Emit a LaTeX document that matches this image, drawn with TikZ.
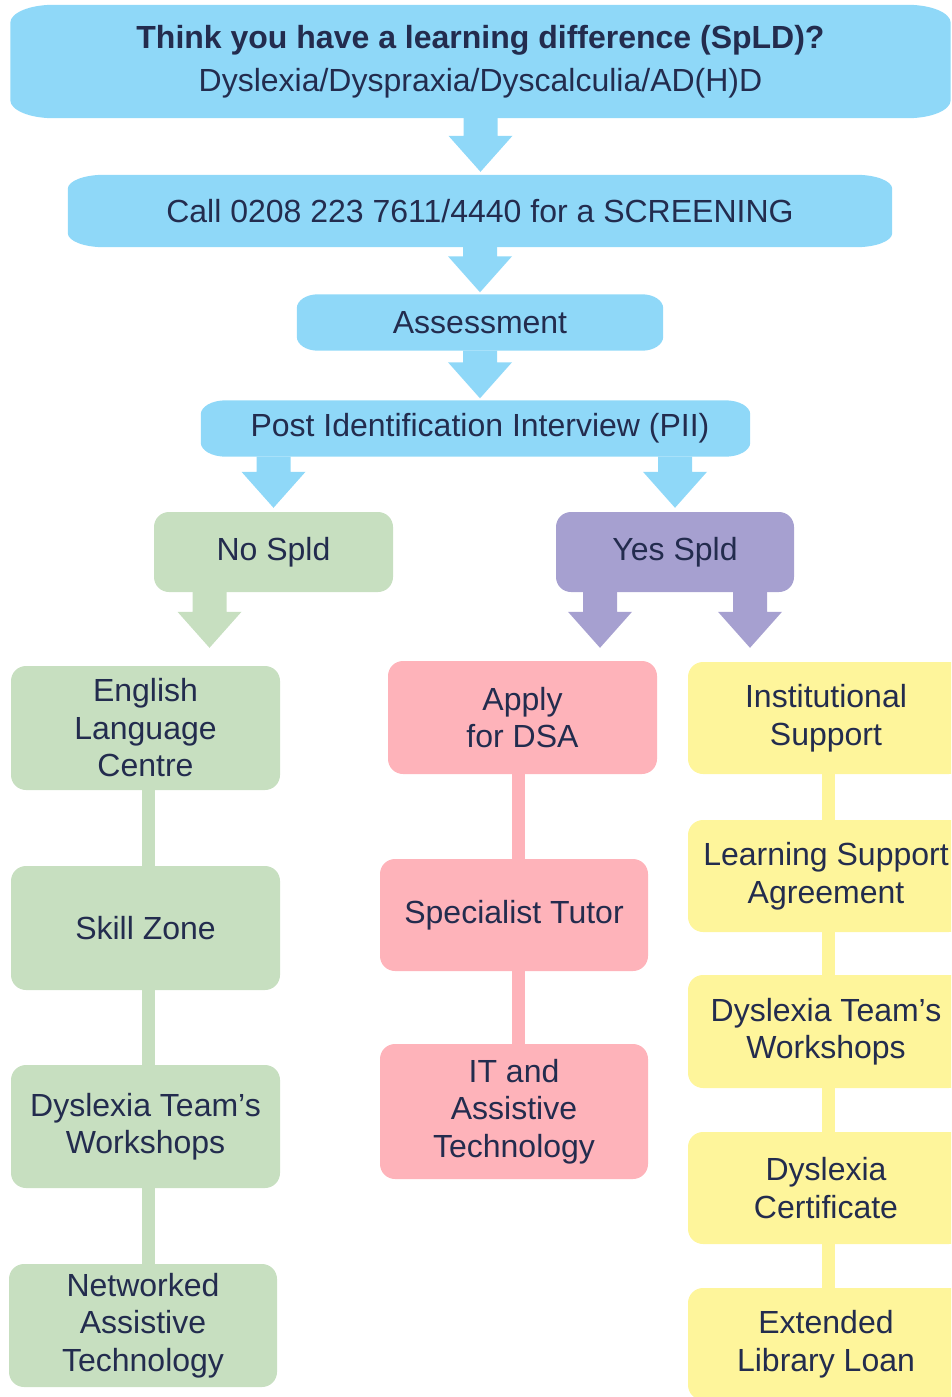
\documentclass[tikz,border=0pt]{standalone}
\usepackage{fontspec}
\setmainfont{Liberation Sans}
\usepackage{xcolor}
\usetikzlibrary{calc}
\pgfdeclarelayer{bg}
\pgfsetlayers{bg,main}
\definecolor{sky}{HTML}{8FD8F8}
\definecolor{sage}{HTML}{C7DFC0}
\definecolor{lilac}{HTML}{A6A0D0}
\definecolor{rose}{HTML}{FEB3BA}
\definecolor{lemon}{HTML}{FEF59B}
\definecolor{ink}{HTML}{232C4E}
\newcommand{\fatarrow}[3]{\fill[#1] let \p1 = (#2), \p2 = (#3) in
  (\x1-17pt,\y1) -- (\x1+17pt,\y1) -- (\x1+17pt,\y2+36pt) -- (\x1+32pt,\y2+36pt)
  -- (\x1,\y2) -- (\x1-32pt,\y2+36pt) -- (\x1-17pt,\y2+36pt) -- cycle;}
\newcommand{\ovalfill}[4]{\fill[#2] ($(#1.north west)+(#3pt,0pt)$) -- ($(#1.north east)+(-#3pt,0pt)$)
  arc[start angle = 90, end angle = 0, x radius = #3pt, y radius = #4pt] -- ($(#1.south east)+(0pt,#4pt)$)
  arc[start angle = 0, end angle = -90, x radius = #3pt, y radius = #4pt] -- ($(#1.south west)+(#3pt,0pt)$)
  arc[start angle = -90, end angle = -180, x radius = #3pt, y radius = #4pt] -- ($(#1.north west)+(0pt,-#4pt)$)
  arc[start angle = 180, end angle = 90, x radius = #3pt, y radius = #4pt] -- cycle;}

\begin{document}
\begin{tikzpicture}[x = 1pt, y = -1pt, font = \fontsize{32}{37.5}\selectfont,
  bluebox/.style = {inner sep = 0pt, align = center, text = ink},
  box/.style = {rounded corners = 15pt, inner sep = 0pt, align = center, text = ink},
  link/.style = {line width = 12.5pt}]
  \useasboundingbox (0,0) rectangle (951,1397);
  \clip (0,0) rectangle (951,1397);
  \node[bluebox, minimum width = 940, minimum height = 113] (think) at (480.5,61.5) {\textbf{Think you have a learning difference (SpLD)?}\\[5.5pt]Dyslexia/Dyspraxia/Dyscalculia/AD(H)D};
  \node[bluebox, minimum width = 824, minimum height = 72] (screening) at (480,211) {Call 0208 223 7611/4440 for a SCREENING};
  \node[bluebox, minimum width = 366, minimum height = 56] (assess) at (480,322.5) {Assessment};
  \node[bluebox, minimum width = 549, minimum height = 56] (pii) at (475.5,428.5) {\hspace*{9pt}Post Identification Interview (PII)};
  \node[box, fill = sage, minimum width = 239, minimum height = 80] (nospld) at (273.5,552) {No Spld};
  \node[box, fill = lilac, minimum width = 238, minimum height = 80] (yesspld) at (675,552) {Yes Spld};
  \node[box, fill = sage, minimum width = 269, minimum height = 124] (english) at (145.5,728) {English\\Language\\Centre};
  \node[box, fill = sage, minimum width = 269, minimum height = 124] (skill) at (145.5,928) {Skill Zone};
  \node[box, fill = sage, minimum width = 269, minimum height = 123] (gworkshops) at (145.5,1126.5) {Dyslexia Team’s\\Workshops};
  \node[box, fill = sage, minimum width = 268, minimum height = 123] (networked) at (143,1325.5) {Networked\\Assistive\\Technology};
  \node[box, fill = rose, minimum width = 269, minimum height = 113] (apply) at (522.5,717.5) {Apply\\for DSA};
  \node[box, fill = rose, minimum width = 268, minimum height = 112] (tutor) at (514,915) {Specialist Tutor};
  \node[box, fill = rose, minimum width = 268, minimum height = 135] (itech) at (514,1111.5) {IT and\\Assistive\\Technology};
  \node[box, fill = lemon, minimum width = 276, minimum height = 112] (inst) at (826,718) {Institutional\\Support};
  \node[box, fill = lemon, minimum width = 276, minimum height = 112] (lsa) at (826,876) {Learning Support\\Agreement};
  \node[box, fill = lemon, minimum width = 276, minimum height = 113] (yworkshops) at (826,1031.5) {Dyslexia Team’s\\Workshops};
  \node[box, fill = lemon, minimum width = 276, minimum height = 112] (cert) at (826,1188) {Dyslexia\\Certificate};
  \node[box, fill = lemon, minimum width = 276, minimum height = 112] (loan) at (826,1344) {Extended\\Library Loan};
  \begin{pgfonlayer}{bg}
    \ovalfill{think}{sky}{43}{18}
    \ovalfill{screening}{sky}{36}{14}
    \ovalfill{assess}{sky}{21}{14}
    \ovalfill{pii}{sky}{25}{14}
    \fatarrow{sky}{think.south}{$(screening.north)+(0,-3)$}
    \fatarrow{sky}{screening.south}{$(assess.north)+(0,-2)$}
    \fatarrow{sky}{assess.south}{$(pii.north)+(0,-2)$}
    \fatarrow{sky}{pii.south -| nospld}{$(nospld.north)+(0,-4)$}
    \fatarrow{sky}{pii.south -| yesspld}{$(yesspld.north)+(0,-4)$}
    \fatarrow{sage}{$(nospld.south)+(-64,0)$}{$(english.north)+(0,-18)$}
    \fatarrow{lilac}{$(yesspld.south)+(-75,0)$}{$(apply.north)+(0,-13)$}
    \fatarrow{lilac}{$(yesspld.south)+(75,0)$}{$(inst.north)+(0,-14)$}
    \draw[link, sage] ([xshift = 3]english.center) -- ([xshift = 3]english.center |- networked.center);
    \draw[link, rose] ([xshift = -4]apply.center) -- ([xshift = -4]apply.center |- itech.center);
    \draw[link, lemon] ([xshift = 2.5]inst.center) -- ([xshift = 2.5]inst.center |- loan.center);
  \end{pgfonlayer}
\end{tikzpicture}
\end{document}
